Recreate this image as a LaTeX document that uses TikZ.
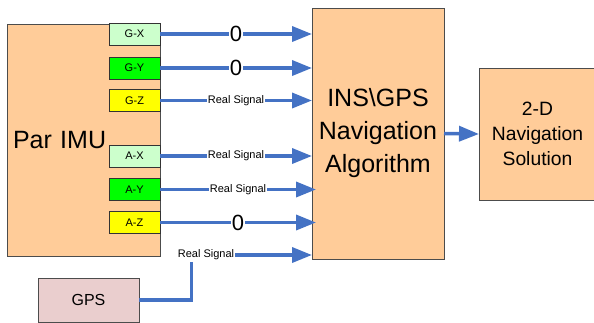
\documentclass[tikz,border=0pt]{standalone}
\usepackage{fontspec}
\setmainfont{Liberation Sans}
\usetikzlibrary{arrows.meta,positioning}
\definecolor{boxorange}{RGB}{255,204,153}
\definecolor{lightgreen}{RGB}{204,255,204}
\definecolor{puregreen}{RGB}{0,255,0}
\definecolor{pureyellow}{RGB}{255,255,0}
\definecolor{gpspink}{RGB}{234,206,206}
\definecolor{sigblue}{RGB}{68,114,196}
\begin{document}
\begin{tikzpicture}[
    x=1pt, y=-1pt,
 block/.style = {
        draw=black!70, fill=boxorange, align=center,
        inner sep=0pt, outer sep=0pt},
  axis/.style = {
        draw=black!80, minimum width=51pt, minimum height=22pt,
        inner sep=0pt, outer sep=0pt, font=\fontsize{11}{13}\selectfont},
  zero/.style = {fill=white, inner sep=1pt, font=\fontsize{22}{24}\selectfont},
  real/.style = {fill=white, inner sep=1pt, font=\fontsize{11}{13}\selectfont},
  wire/.style = {line width=3.5pt, draw=sigblue},
   sig/.style = {wire, -{Triangle[length=20pt,width=15pt]}}
                    ]
\useasboundingbox (0,0) rectangle (594,322);
% the main blocks
\node (imu) [block, minimum width=153pt, minimum height=232pt,
             text width=141pt, align=left, inner xsep=6pt,
             font=\fontsize{25}{30}\selectfont]
             at (83.5,140) {Par IMU};
\node (ins) [block, minimum width=132pt, minimum height=251pt,
             font=\fontsize{25}{33}\selectfont]
             at (378,133.5) {INS\textbackslash GPS\\Navigation\\Algorithm};
\node (sol) [block, minimum width=117pt, minimum height=132pt,
             font=\fontsize{19.3}{25}\selectfont]
             at (537.5,134) {2-D\\Navigation\\Solution};
\node (gps) [block, fill=gpspink, minimum width=101pt, minimum height=44pt,
             font=\fontsize{16}{19}\selectfont]
             at (88.5,300) {GPS};
% the sensor outputs
\node (gx) [axis, fill=lightgreen] at (134.5,34)  {G-X};
\node (gy) [axis, fill=puregreen]  at (134.5,68)  {G-Y};
\node (gz) [axis, fill=pureyellow] at (134.5,100.5) {G-Z};
\node (ax) [axis, fill=lightgreen] at (134.5,156) {A-X};
\node (ay) [axis, fill=puregreen]  at (134.5,189.5) {A-Y};
\node (az) [axis, fill=pureyellow] at (134.5,222.5) {A-Z};
% signals into the algorithm
\draw[sig] (gx.east) -- (gx.east -| ins.west) node[zero,pos=.5] {0};
\draw[sig] (gy.east) -- (gy.east -| ins.west) node[zero,pos=.5] {0};
\draw[sig] (gz.east) -- (gz.east -| ins.west) node[real,pos=.5] {Real Signal};
\draw[sig] (ax.east) -- (ax.east -| ins.west) node[real,pos=.5] {Real Signal};
\draw[sig] (ay.east) -- ([xshift=4pt] ay.east -| ins.west) node[real,pos=.5] {Real Signal};
\draw[sig] (az.east) -- ([xshift=4pt] az.east -| ins.west) node[zero,pos=.5] {0};
% the GPS branch
\node (gpssig) [real] at (206,255) {Real Signal};
\coordinate (gpsbend) at (191.5,262);
\draw[wire] (gps.east) -| (gpsbend);
\draw[sig] (gpssig.east) -- (gpssig.east -| ins.west);
% the output
\draw[sig] (ins.east) -- (sol.west);
\end{tikzpicture}
\end{document}
